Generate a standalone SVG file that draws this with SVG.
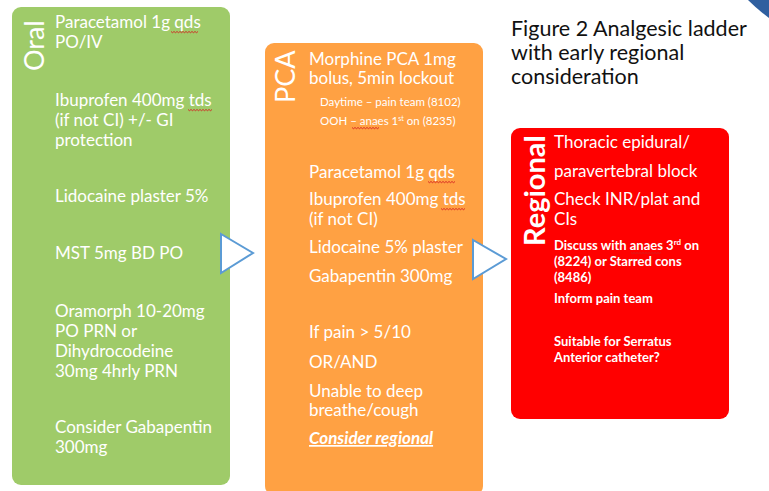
<svg xmlns="http://www.w3.org/2000/svg" width="769" height="491" viewBox="0 0 769 491">
<defs>
<style>
.t{font-family:Lato,"Open Sans","Liberation Sans",sans-serif;fill:#fff;font-size:17px}
.s{font-size:11.5px}
.r{font-size:13px;font-weight:bold}
.b{font-weight:bold}
.v{font-family:Lato,"Open Sans","Liberation Sans",sans-serif;fill:#fff}
.tri{fill:#fff;stroke:#5b9bd5;stroke-width:2;stroke-linejoin:miter}
.title{font-family:Lato,"Open Sans","Liberation Sans",sans-serif;fill:#111;font-size:21.5px}
.sq{fill:none;stroke:#d42020;stroke-width:0.9}
</style>
</defs>
<rect width="769" height="491" fill="#fff"/>
<path d="M748,0 Q758,10 769,18 L769,0 Z" fill="#2f5f9f"/>
<g id="title">
<text class="title" x="511" y="36">Figure 2 Analgesic ladder</text>
<text class="title" x="511" y="60">with early regional</text>
<text class="title" x="511" y="84">consideration</text>
</g>
<g id="oral">
<rect x="12" y="7" width="218" height="478" rx="9" fill="#9fcb69"/>
<text class="v" font-size="27" transform="translate(44,71) rotate(-90)">Oral</text>
<text class="t" x="55" y="28">Paracetamol 1g qds</text>
<text class="t" x="55" y="48">PO/IV</text>
<text class="t" x="55" y="106">Ibuprofen 400mg tds</text>
<text class="t" x="55" y="126">(if not CI) +/- GI</text>
<text class="t" x="55" y="146">protection</text>
<text class="t" x="55" y="202">Lidocaine plaster 5%</text>
<text class="t" x="55" y="259">MST 5mg BD PO</text>
<text class="t" x="55" y="317">Oramorph 10-20mg</text>
<text class="t" x="55" y="337">PO PRN or</text>
<text class="t" x="55" y="357">Dihydrocodeine</text>
<text class="t" x="55" y="377">30mg 4hrly PRN</text>
<text class="t" x="55" y="433">Consider Gabapentin</text>
<text class="t" x="55" y="453">300mg</text>
<path class="sq" d="M171,31.5 l1.5,1.2 l1.5,-1.2 l1.5,1.2 l1.5,-1.2 l1.5,1.2 l1.5,-1.2 l1.5,1.2 l1.5,-1.2 l1.5,1.2 l1.5,-1.2 l1.5,1.2 l1.5,-1.2 l1.5,1.2 l1.5,-1.2 l1.5,1.2 l1.5,-1.2 l1.5,1.2 l1.5,-1.2"/>
<path class="sq" d="M188,109.5 l1.5,1.2 l1.5,-1.2 l1.5,1.2 l1.5,-1.2 l1.5,1.2 l1.5,-1.2 l1.5,1.2 l1.5,-1.2 l1.5,1.2 l1.5,-1.2 l1.5,1.2 l1.5,-1.2 l1.5,1.2 l1.5,-1.2 l1.5,1.2 l1.5,-1.2"/>
</g>
<g id="pca">
<rect x="265" y="43" width="218" height="452" rx="9" fill="#ffa143"/>
<text class="v" font-size="27" transform="translate(295,103) rotate(-90)">PCA</text>
<text class="t" x="309" y="65">Morphine PCA 1mg</text>
<text class="t" x="309" y="84">bolus, 5min lockout</text>
<text class="t s" x="320" y="106">Daytime – pain team (8102)</text>
<text class="t s" x="320" y="125">OOH – anaes 1<tspan font-size="7" dy="-4">st</tspan><tspan dy="4"> on (8235)</tspan></text>
<text class="t" x="309" y="178">Paracetamol 1g qds</text>
<text class="t" x="309" y="205">Ibuprofen 400mg tds</text>
<text class="t" x="309" y="225">(if not CI)</text>
<text class="t" x="309" y="253">Lidocaine 5% plaster</text>
<text class="t" x="309" y="282">Gabapentin 300mg</text>
<text class="t" x="309" y="338">If pain &gt; 5/10</text>
<text class="t" x="309" y="368">OR/AND</text>
<text class="t" x="309" y="397">Unable to deep</text>
<text class="t" x="309" y="416">breathe/cough</text>
<text class="t b" x="309" y="444" font-style="italic" text-decoration="underline">Consider regional</text>
<path class="sq" d="M428,181.5 l1.5,1.2 l1.5,-1.2 l1.5,1.2 l1.5,-1.2 l1.5,1.2 l1.5,-1.2 l1.5,1.2 l1.5,-1.2 l1.5,1.2 l1.5,-1.2 l1.5,1.2 l1.5,-1.2 l1.5,1.2 l1.5,-1.2 l1.5,1.2 l1.5,-1.2 l1.5,1.2 l1.5,-1.2"/>
<path class="sq" d="M441,208.5 l1.5,1.2 l1.5,-1.2 l1.5,1.2 l1.5,-1.2 l1.5,1.2 l1.5,-1.2 l1.5,1.2 l1.5,-1.2 l1.5,1.2 l1.5,-1.2 l1.5,1.2 l1.5,-1.2 l1.5,1.2 l1.5,-1.2 l1.5,1.2 l1.5,-1.2"/>
<path class="sq" d="M352,127.5 l1.5,1.2 l1.5,-1.2 l1.5,1.2 l1.5,-1.2 l1.5,1.2 l1.5,-1.2 l1.5,1.2 l1.5,-1.2 l1.5,1.2 l1.5,-1.2 l1.5,1.2 l1.5,-1.2 l1.5,1.2 l1.5,-1.2 l1.5,1.2 l1.5,-1.2 l1.5,1.2 l1.5,-1.2"/>
</g>
<g id="regional">
<rect x="511" y="128" width="218" height="291" rx="9" fill="#ff0000"/>
<text class="v" font-size="29" font-weight="bold" transform="translate(545,246) rotate(-90)">Regional</text>
<text class="t" x="554" y="148">Thoracic epidural/</text>
<text class="t" x="554" y="177">paravertebral block</text>
<text class="t" x="554" y="205">Check INR/plat and</text>
<text class="t" x="554" y="225">CIs</text>
<text class="t r" x="554" y="250">Discuss with anaes 3<tspan font-size="8" dy="-5">rd</tspan><tspan dy="5"> on</tspan></text>
<text class="t r" x="554" y="266">(8224) or Starred cons</text>
<text class="t r" x="554" y="282">(8486)</text>
<text class="t r" x="554" y="303">Inform pain team</text>
<text class="t r" x="554" y="346">Suitable for Serratus</text>
<text class="t r" x="554" y="362">Anterior catheter?</text>
<path class="sq" d="M631,252.5 l1.5,1.2 l1.5,-1.2 l1.5,1.2 l1.5,-1.2 l1.5,1.2 l1.5,-1.2 l1.5,1.2 l1.5,-1.2 l1.5,1.2 l1.5,-1.2 l1.5,1.2 l1.5,-1.2 l1.5,1.2 l1.5,-1.2 l1.5,1.2 l1.5,-1.2 l1.5,1.2 l1.5,-1.2 l1.5,1.2 l1.5,-1.2"/>
<path class="sq" d="M626,348.5 l1.5,1.2 l1.5,-1.2 l1.5,1.2 l1.5,-1.2 l1.5,1.2 l1.5,-1.2 l1.5,1.2 l1.5,-1.2 l1.5,1.2 l1.5,-1.2 l1.5,1.2 l1.5,-1.2 l1.5,1.2 l1.5,-1.2 l1.5,1.2 l1.5,-1.2 l1.5,1.2 l1.5,-1.2 l1.5,1.2 l1.5,-1.2 l1.5,1.2 l1.5,-1.2 l1.5,1.2 l1.5,-1.2 l1.5,1.2 l1.5,-1.2 l1.5,1.2 l1.5,-1.2 l1.5,1.2 l1.5,-1.2"/>
</g>
<g id="connectors">
<polygon class="tri" points="221,234 253,253 221,273"/>
<polygon class="tri" points="473,240 506,259 473,279"/>
</g>
</svg>
